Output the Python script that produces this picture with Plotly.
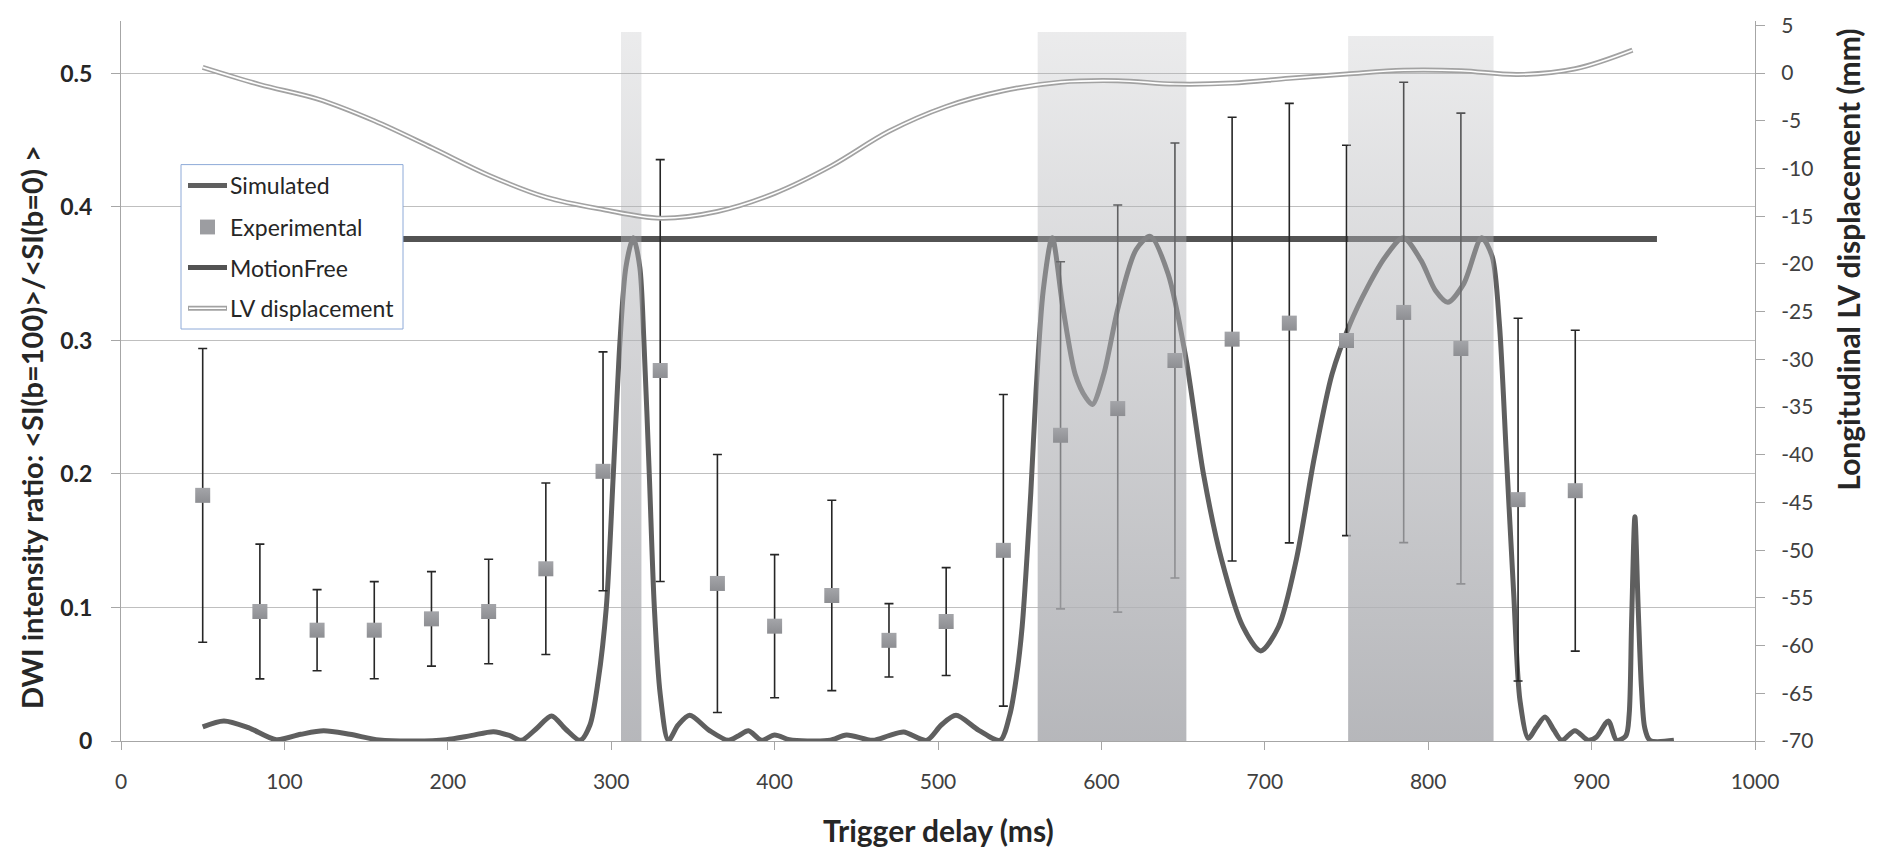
import plotly.graph_objects as go

# ---------------- data ----------------
x_tickvals = [0, 100, 200, 300, 400, 500, 600, 700, 800, 900, 1000]

left_tickvals = [0, 0.1, 0.2, 0.3, 0.4, 0.5]
left_ticktext = ["0", "0.1", "0.2", "0.3", "0.4", "0.5"]

right_tickvals = [5, 0, -5, -10, -15, -20, -25, -30, -35, -40, -45, -50, -55, -60, -65, -70]
right_ticktext = ["5", "0", "-5", "-10", "-15", "-20", "-25", "-30", "-35", "-40",
                  "-45", "-50", "-55", "-60", "-65", "-70"]

exp_x = [50, 85, 120, 155, 190, 225, 260, 295, 330, 365, 400, 435, 470, 505, 540,
         575, 610, 645, 680, 715, 750, 785, 820, 855, 890]
exp_y = [0.184, 0.097, 0.083, 0.083, 0.0915, 0.097, 0.129, 0.202, 0.2775, 0.118, 0.086,
         0.109, 0.0754, 0.0895, 0.1428, 0.229, 0.249, 0.285, 0.301, 0.313, 0.300, 0.321,
         0.294, 0.1808, 0.1875]
exp_err = [0.110, 0.0505, 0.0304, 0.0364, 0.0354, 0.0391, 0.0642, 0.0895, 0.158, 0.0966,
           0.0536, 0.0713, 0.0275, 0.0404, 0.1167, 0.130, 0.1525, 0.1629, 0.1662, 0.1646,
           0.1462, 0.1724, 0.1763, 0.1359, 0.1202]

sim_x = [50, 63, 78, 95, 110, 124, 140, 158, 180, 199, 214, 228, 238, 245, 254, 263.5, 272,
         281, 287, 292, 297, 301.3, 305.4, 309, 313.5, 317.5, 320, 323.3, 326.4, 330, 335,
         341, 348, 360, 371.7, 378, 384, 392, 400, 409, 420, 434, 444, 460, 470, 479, 493,
         502, 511, 525, 538, 544, 548, 551.5, 556.8, 560, 564.4, 569.9, 576.4, 584, 590.6,
         594.5, 601.5, 610.3, 621.2, 629.9, 640.8, 651.7, 662.6, 673.5, 686.6, 697.5, 708.4,
         719.3, 730.2, 741.1, 752, 762.9, 773.8, 784.7, 795.6, 804.4, 812, 821.8, 832.7,
         839.2, 843.6, 848, 852.3, 856.2, 861.3, 866, 871.5, 877, 881.7, 889.8, 898, 903,
         910.2, 915.3, 921, 923, 924.5, 926.5, 928.5, 930.5, 932.5, 935.7, 950.4]
sim_y = [0.0106, 0.015, 0.010, 0.001, 0.005, 0.0076, 0.005, 0.0008, 0.0, 0.001, 0.004, 0.007,
         0.004, 0.0005, 0.009, 0.0188, 0.009, 0.0005, 0.012, 0.045, 0.1, 0.2, 0.3, 0.355,
         0.377, 0.355, 0.3, 0.2, 0.1, 0.035, 0.0005, 0.012, 0.0193, 0.008, 0.0005, 0.004,
         0.0077, 0.0005, 0.0045, 0.001, 0.0, 0.0005, 0.0045, 0.0005, 0.004, 0.0067, 0.0005,
         0.012, 0.0193, 0.008, 0.0005, 0.02, 0.048, 0.0856, 0.186, 0.262, 0.3375, 0.377,
         0.325, 0.2746, 0.257, 0.252, 0.275, 0.325, 0.368, 0.378, 0.35, 0.287, 0.199, 0.136,
         0.0856, 0.0675, 0.0856, 0.136, 0.2116, 0.2746, 0.312, 0.34, 0.3627, 0.377, 0.36,
         0.3375, 0.3287, 0.3426, 0.377, 0.3627, 0.312, 0.21, 0.111, 0.03, 0.002, 0.01, 0.018,
         0.008, 0.0005, 0.0077, 0.0005, 0.003, 0.015, 0.0005, 0.004, 0.02, 0.09, 0.168, 0.1,
         0.04, 0.01, 0.0005, 0.0005]

motion_x = [50, 940]
motion_y = [0.376, 0.376]

lv_x = [50, 85, 120, 155, 190, 225, 260, 295, 330, 365, 400, 435, 470, 505, 540, 575, 610,
        645, 680, 715, 750, 785, 820, 855, 890, 925]
lv_y = [0.6, -1.2, -2.7, -5.0, -7.8, -10.7, -13.0, -14.3, -15.2, -14.5, -12.6, -9.7, -6.1,
        -3.5, -1.85, -0.95, -0.8, -1.15, -1.05, -0.55, -0.1, 0.3, 0.25, -0.15, 0.45, 2.4]

shade_start = [306, 561, 751]
shade_end = [318.5, 652, 840]
shade_top = [0.531, 0.531, 0.528]

# ---------------- styling ----------------
FONT = "Lato"
TXT = "#262626"
AX = "#a6a6a6"
GRID = "#bfbfbf"

fig = go.Figure()

fig.add_trace(go.Scatter(x=motion_x, y=motion_y, mode="lines", name="MotionFree",
                         line=dict(color="#535353", width=6), showlegend=False))
fig.add_trace(go.Scatter(x=sim_x, y=sim_y, mode="lines", name="Simulated",
                         line=dict(color="#5f5f5f", width=5, shape="spline", smoothing=0.8),
                         showlegend=False))
fig.add_trace(go.Scatter(x=lv_x, y=lv_y, mode="lines", name="LV displacement", yaxis="y2",
                         line=dict(color="#a2a2a2", width=5, shape="spline", smoothing=1),
                         showlegend=False))
fig.add_trace(go.Scatter(x=lv_x, y=lv_y, mode="lines", yaxis="y2", hoverinfo="skip",
                         line=dict(color="#ffffff", width=1.6, shape="spline", smoothing=1),
                         showlegend=False))
# error bars of the experimental series
fig.add_trace(go.Scatter(x=exp_x, y=exp_y, mode="markers", hoverinfo="skip",
                         marker=dict(size=1, color="rgba(0,0,0,0)"),
                         error_y=dict(type="data", array=exp_err, visible=True,
                                      color="#262626", thickness=1.6, width=4.5),
                         showlegend=False))
# translucent shaded phases, drawn over the curves
for s, e, t in zip(shade_start, shade_end, shade_top):
    fig.add_trace(go.Scatter(
        x=[s, e, e, s, s], y=[0, 0, t, t, 0], mode="lines", fill="toself",
        line=dict(width=0, color="rgba(0,0,0,0)"), hoverinfo="skip", showlegend=False,
        fillgradient=dict(type="vertical", start=0, stop=t,
                          colorscale=[[0, "rgba(176,177,181,0.93)"],
                                      [1, "rgba(176,177,181,0.25)"]])))
# experimental markers
fig.add_trace(go.Scatter(x=exp_x, y=exp_y, mode="markers", name="Experimental",
                         marker=dict(symbol="square", size=15, color="#a4a5a9",
                                     gradient=dict(type="vertical", color="#8d8e92"),
                                     line=dict(width=0)),
                         showlegend=False))

# ---------------- manual legend ----------------
L, R, T, B = 121, 1755, 14, 741


def px(xp):
    return (xp - L) / (R - L)


def py(yp):
    return (B - yp) / (B - T)


shapes = [dict(type="rect", xref="paper", yref="paper", x0=px(181), x1=px(403),
               y0=py(325), y1=py(159), line=dict(color="#8eaad8", width=1),
               fillcolor="white", layer="above")]
legend_rows = [("Simulated", 180), ("Experimental", 222), ("MotionFree", 263),
               ("LV displacement", 304)]
shapes.append(dict(type="line", xref="paper", yref="paper", x0=px(188), x1=px(227),
                   y0=py(180), y1=py(180), line=dict(color="#5f5f5f", width=5), layer="above"))
shapes.append(dict(type="rect", xref="paper", yref="paper", x0=px(200), x1=px(215),
                   y0=py(229.5), y1=py(214.5), line=dict(width=0), fillcolor="#9c9da1",
                   layer="above"))
shapes.append(dict(type="line", xref="paper", yref="paper", x0=px(188), x1=px(227),
                   y0=py(263), y1=py(263), line=dict(color="#535353", width=5), layer="above"))
shapes.append(dict(type="line", xref="paper", yref="paper", x0=px(188), x1=px(227),
                   y0=py(304), y1=py(304), line=dict(color="#a2a2a2", width=5), layer="above"))
shapes.append(dict(type="line", xref="paper", yref="paper", x0=px(189), x1=px(226),
                   y0=py(304), y1=py(304), line=dict(color="#ffffff", width=1.6), layer="above"))

annotations = []
for label, yy in legend_rows:
    annotations.append(dict(text=label, xref="paper", yref="paper", x=px(228), y=py(yy),
                            xanchor="left", yanchor="middle", showarrow=False,
                            font=dict(family=FONT, size=23, color=TXT)))

# axis titles
annotations.append(dict(text="Trigger delay (ms)", xref="paper", yref="paper",
                        x=px(938), y=py(831), xanchor="center", yanchor="middle",
                        showarrow=False,
                        font=dict(family=FONT, size=30, color=TXT, weight="bold")))
annotations.append(dict(text="DWI intensity ratio: &lt;SI(b=100)&gt;/&lt;SI(b=0) &gt;",
                        xref="paper", yref="paper", x=px(31), y=py(424), textangle=-90,
                        xanchor="center", yanchor="middle", showarrow=False,
                        font=dict(family=FONT, size=29, color=TXT, weight="bold")))
annotations.append(dict(text="Longitudinal LV displacement (mm)",
                        xref="paper", yref="paper", x=px(1848), y=py(255), textangle=-90,
                        xanchor="center", yanchor="middle", showarrow=False,
                        font=dict(family=FONT, size=30, color=TXT, weight="bold")))

fig.update_layout(
    width=1877, height=850,
    margin=dict(l=L, r=1877 - R, t=T, b=850 - B, pad=0),
    paper_bgcolor="white", plot_bgcolor="white",
    showlegend=False,
    font=dict(family=FONT, color=TXT),
    xaxis=dict(range=[0, 1000], tickvals=x_tickvals, ticks="outside", ticklen=8,
               tickcolor=AX, showline=True, linecolor=AX, linewidth=1, showgrid=False,
               zeroline=False, tickfont=dict(family=FONT, size=21, color="#404040"),
               ticklabelstandoff=14),
    yaxis=dict(range=[0, 0.5393], tickvals=left_tickvals, ticktext=left_ticktext,
               ticks="outside", ticklen=9, tickcolor=AX, showline=True, linecolor=AX,
               showgrid=True, gridcolor=GRID, gridwidth=1, zeroline=False,
               tickfont=dict(family=FONT, size=23, color=TXT, weight="bold"),
               ticklabelstandoff=14),
    yaxis2=dict(range=[-70, 5.46], overlaying="y", side="right", tickvals=right_tickvals,
                ticktext=right_ticktext, ticks="outside", ticklen=9, tickcolor=AX,
                showline=True, linecolor=AX, showgrid=False, zeroline=False,
                tickfont=dict(family=FONT, size=21, color="#404040"),
                ticklabelstandoff=12),
    shapes=shapes,
    annotations=annotations,
)

fig.write_html("out.html", config={"displayModeBar": False},
               post_script="document.body.style.margin='0';document.body.style.overflow='hidden';")
